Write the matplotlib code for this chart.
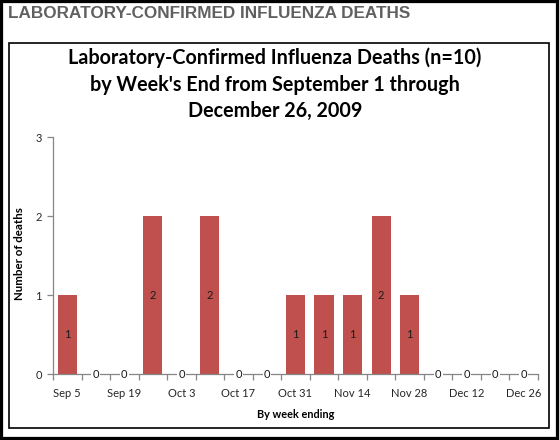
import matplotlib.pyplot as plt
from matplotlib.patches import Rectangle

# weekly deaths, Sep 5 .. Dec 26, 2009
WEEKS = ["Sep 5", "Sep 12", "Sep 19", "Sep 26", "Oct 3", "Oct 10", "Oct 17",
         "Oct 24", "Oct 31", "Nov 7", "Nov 14", "Nov 21", "Nov 28", "Dec 5",
         "Dec 12", "Dec 19", "Dec 26"]
DEATHS = [1, 0, 0, 2, 0, 2, 0, 0, 1, 1, 1, 2, 1, 0, 0, 0, 0]
Y_TICKS = [0, 1, 2, 3]

BAR_COLOR = "#C0504D"
AXIS_GRAY = "#868686"
FONT = "Lato"

W, H = 559, 440
fig = plt.figure(figsize=(W / 100, H / 100), dpi=100)


def px_x(x):
    return x / W


def px_y(y):
    return 1 - y / H


# outer black frame and inner chart box
fig.patches.append(Rectangle((0, 0), 1, 1, transform=fig.transFigure,
                             fill=False, edgecolor="black", linewidth=4.5))
fig.patches.append(Rectangle((px_x(8.5), px_y(428)), px_x(540), 385 / H,
                             transform=fig.transFigure, fill=False,
                             edgecolor="black", linewidth=1.2))

fig.text(px_x(8), px_y(14), "LABORATORY-CONFIRMED INFLUENZA DEATHS",
         family="Liberation Sans", weight="bold", fontsize=12.3,
         color="#606060", ha="left", va="center")

title_lines = ["Laboratory-Confirmed Influenza Deaths (n=10)",
               "by Week's End from September 1 through",
               "December 26, 2009"]
for line, y in zip(title_lines, [58, 85, 111]):
    fig.text(px_x(275), px_y(y), line, family=FONT, weight="bold",
             fontsize=14.2, ha="center", va="center", color="black")

ax = fig.add_axes([px_x(53), 66 / H, 485 / W, 237 / H])
xs = list(range(len(WEEKS)))
ax.bar(xs, DEATHS, width=0.67, color=BAR_COLOR, zorder=2)

for x, v in zip(xs, DEATHS):
    ax.text(x, v / 2, str(v), ha="center", va="center", fontsize=8,
            family=FONT, color="#1a1a1a", zorder=4,
            bbox=dict(boxstyle="square,pad=0.1", fc="white", ec="none")
            if v == 0 else None)

ax.set_xlim(-0.5, len(WEEKS) - 0.5)
ax.set_ylim(0, 3)
ax.set_yticks(Y_TICKS)
ax.set_xticks(xs[::2])
ax.set_xticklabels(WEEKS[::2])
ax.set_xticks([i - 0.5 for i in range(len(WEEKS) + 1)], minor=True)

for side in ["top", "right"]:
    ax.spines[side].set_visible(False)
for side in ["left", "bottom"]:
    ax.spines[side].set_color(AXIS_GRAY)
    ax.spines[side].set_linewidth(0.9)

ax.tick_params(axis="x", which="major", length=0, pad=10, labelsize=8)
ax.tick_params(axis="x", which="minor", length=4, color=AXIS_GRAY, width=0.9)
ax.tick_params(axis="y", length=4, color=AXIS_GRAY, width=0.9, pad=4,
               labelsize=8)
for lbl in ax.get_xticklabels() + ax.get_yticklabels():
    lbl.set_family(FONT)
    lbl.set_color("#262626")

fig.text(px_x(20), px_y(254), "Number of deaths", rotation=90,
         family=FONT, weight="bold", fontsize=8.3, ha="center", va="center")
fig.text(px_x(296), px_y(414), "By week ending", family=FONT,
         weight="bold", fontsize=7.8, ha="center", va="center")

fig.savefig("out.png", dpi=100)
